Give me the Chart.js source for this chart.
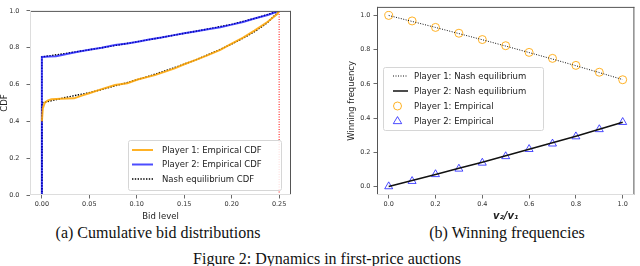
<!DOCTYPE html>
<html>
<head>
<meta charset="utf-8">
<script src="https://cdn.jsdelivr.net/npm/chart.js@4.4.1/dist/chart.umd.min.js"></script>
<style>
  body { margin: 0; width: 640px; height: 266px; background: #fff; overflow: hidden; position: relative; }
  .plot { position: absolute; top: 0; width: 320px; height: 222px; }
  .cap { position: absolute; font-family: 'Liberation Serif', serif; font-size: 16px; line-height: 16px;
         text-align: center; white-space: nowrap; color: #111; width: 400px; }
</style>
</head>
<body>
<div class="plot" style="left:0"><canvas id="cdfChart" width="320" height="222"></canvas></div>
<div class="plot" style="left:320px"><canvas id="winChart" width="320" height="222"></canvas></div>
<div class="cap" style="left:-42px; top:225px">(a) Cumulative bid distributions</div>
<div class="cap" style="left:307px; top:225px">(b) Winning frequencies</div>
<div class="cap" style="left:127px; top:251px">Figure 2: Dynamics in first-price auctions</div>
<script>
// (a) cumulative bid distributions
const p1EmpBids = [0, 0.001, 0.003, 0.006, 0.01, 0.02, 0.027, 0.034, 0.042, 0.05, 0.063, 0.077, 0.09, 0.101,
  0.119, 0.13, 0.14, 0.15, 0.163, 0.175, 0.188, 0.199, 0.212, 0.224, 0.238, 0.248, 0.25];
const p1EmpCdf = [0.40, 0.47, 0.50, 0.513, 0.52, 0.523, 0.524, 0.525, 0.54, 0.553, 0.575, 0.597, 0.607, 0.627,
  0.651, 0.67, 0.688, 0.71, 0.735, 0.76, 0.788, 0.82, 0.855, 0.893, 0.941, 0.983, 1.0];
const p2EmpBids = [0, 0, 0.008, 0.015, 0.025, 0.038, 0.05, 0.063, 0.077, 0.09, 0.101, 0.113, 0.126, 0.138,
  0.15, 0.163, 0.175, 0.188, 0.199, 0.212, 0.224, 0.238, 0.248, 0.25];
const p2EmpCdf = [0, 0.75, 0.752, 0.754, 0.765, 0.778, 0.789, 0.80, 0.815, 0.823, 0.833, 0.845, 0.855, 0.867,
  0.879, 0.889, 0.90, 0.911, 0.924, 0.94, 0.959, 0.978, 0.996, 1.0];
const p1NashBids = [0, 0, 0.0125, 0.025, 0.0375, 0.05, 0.0625, 0.075, 0.0875, 0.1, 0.1125, 0.125, 0.1375,
  0.15, 0.1625, 0.175, 0.1875, 0.2, 0.2125, 0.225, 0.2375, 0.25];
const p1NashCdf = [0, 0.5, 0.515, 0.53, 0.543, 0.556, 0.572, 0.59, 0.607, 0.626, 0.645, 0.666, 0.688,
  0.711, 0.735, 0.762, 0.79, 0.82, 0.853, 0.89, 0.935, 1.0];
const p2NashBids = [0, 0, 0.025, 0.05, 0.075, 0.1, 0.125, 0.15, 0.175, 0.2, 0.225, 0.25];
const p2NashCdf = [0, 0.75, 0.769, 0.789, 0.81, 0.832, 0.855, 0.878, 0.902, 0.927, 0.96, 1.0];
const capBids = [0.25, 0.25];
const capCdf = [0, 1];
const cdfXTicks = [0, 0.05, 0.1, 0.15, 0.2, 0.25];
const cdfYTicks = [0, 0.2, 0.4, 0.6, 0.8, 1.0];

// (b) winning frequencies
const valueRatios = [0, 0.1, 0.2, 0.3, 0.4, 0.5, 0.6, 0.7, 0.8, 0.9, 1.0];
const p1NashWin = [1.0, 0.965, 0.93, 0.894, 0.858, 0.821, 0.783, 0.745, 0.706, 0.666, 0.625];
const p2NashWin = [0, 0.035, 0.07, 0.106, 0.142, 0.179, 0.217, 0.255, 0.294, 0.334, 0.375];
const p1EmpWin = [1.0, 0.968, 0.93, 0.896, 0.859, 0.823, 0.784, 0.749, 0.708, 0.668, 0.624];
const p2EmpWin = [0, 0.031, 0.071, 0.103, 0.138, 0.176, 0.218, 0.25, 0.292, 0.334, 0.376];
const winXTicks = [0, 0.2, 0.4, 0.6, 0.8, 1.0];
const winYTicks = [0, 0.2, 0.4, 0.6, 0.8, 1.0];

const ORANGE = 'rgba(255,165,0,0.85)';
const BLUE = 'rgba(0,0,255,0.7)';
const TICK_FONT = {family: 'DejaVu Sans', size: 6.5};
const LABEL_FONT = {family: 'DejaVu Sans', size: 8.5};

const pts = (xs, ys) => xs.map((x, i) => ({x: x, y: ys[i]}));

// matplotlib-like frame around the plot area
const spines = {
  id: 'spines',
  afterDraw(chart, args, opts) {
    const {ctx, chartArea: a} = chart;
    const side = (x1, y1, x2, y2, c) => {
      ctx.beginPath();
      ctx.strokeStyle = c;
      ctx.lineWidth = 1;
      ctx.moveTo(x1, y1);
      ctx.lineTo(x2, y2);
      ctx.stroke();
    };
    ctx.save();
    side(a.left, a.top + 0.5, a.right, a.top + 0.5, opts.top);
    side(a.right - 0.5, a.top, a.right - 0.5, a.bottom, opts.right);
    side(a.left + 0.5, a.top, a.left + 0.5, a.bottom, opts.left);
    side(a.left, a.bottom - 0.5, a.right, a.bottom - 0.5, opts.bottom);
    ctx.restore();
  }
};

// legend box drawn inside the axes
const boxLegend = {
  id: 'boxLegend',
  afterDatasetsDraw(chart, args, opts) {
    const ctx = chart.ctx;
    const b = opts.box;
    ctx.save();
    ctx.beginPath();
    ctx.roundRect(b.x + 0.5, b.y + 0.5, b.w, b.h, 2);
    ctx.fillStyle = 'rgba(255,255,255,0.85)';
    ctx.fill();
    ctx.strokeStyle = '#d6d6d6';
    ctx.lineWidth = 1;
    ctx.stroke();
    ctx.font = '8.5px "DejaVu Sans"';
    ctx.textBaseline = 'middle';
    opts.items.forEach((it, i) => {
      const y = b.y + opts.firstY + i * opts.step;
      const x1 = b.x + opts.handleX, x2 = x1 + opts.handleW;
      if (it.kind === 'line') {
        ctx.beginPath();
        ctx.setLineDash(it.dash || []);
        ctx.strokeStyle = it.color;
        ctx.lineWidth = it.width;
        ctx.moveTo(x1, y);
        ctx.lineTo(x2, y);
        ctx.stroke();
        ctx.setLineDash([]);
      } else {
        const cx = (x1 + x2) / 2 - 3;
        ctx.strokeStyle = it.color;
        ctx.lineWidth = 1;
        ctx.beginPath();
        if (it.kind === 'circle') {
          ctx.arc(cx, y, 4, 0, Math.PI * 2);
        } else {
          const r = 4.4;
          ctx.moveTo(cx, y - r);
          ctx.lineTo(cx + r * 0.95, y + r * 0.6);
          ctx.lineTo(cx - r * 0.95, y + r * 0.6);
          ctx.closePath();
        }
        ctx.stroke();
      }
      ctx.fillStyle = '#222';
      ctx.fillText(it.text, x2 + opts.gap, y + 0.5);
    });
    ctx.restore();
  }
};

const axis = (min, max, tickVals, digits, fitSize, horizontal, title, titleFont, pad) => ({
  type: 'linear',
  min: min,
  max: max,
  afterBuildTicks: (s) => { s.ticks = tickVals.map(v => ({value: v})); },
  afterFit: (s) => { if (horizontal) s.height = fitSize; else s.width = fitSize; },
  grid: {drawOnChartArea: false, drawTicks: true, tickLength: 3.5, color: '#444', lineWidth: 0.8},
  border: {display: false},
  ticks: {font: TICK_FONT, color: '#333', padding: pad, maxRotation: 0,
    callback: (v) => Number(v).toFixed(digits)},
  title: {display: true, text: title, font: titleFont || LABEL_FONT, color: '#222', padding: {top: 0, bottom: 0}}
});

new Chart(document.getElementById('cdfChart'), {
  type: 'scatter',
  data: {
    datasets: [
      {label: 'Player 1: Empirical CDF', data: pts(p1EmpBids, p1EmpCdf), showLine: true,
        borderColor: ORANGE, borderWidth: 2, pointRadius: 0},
      {label: 'Player 2: Empirical CDF', data: pts(p2EmpBids, p2EmpCdf), showLine: true,
        borderColor: BLUE, borderWidth: 2, pointRadius: 0},
      {label: 'Nash P1', data: pts(p1NashBids, p1NashCdf), showLine: true,
        borderColor: '#000', borderWidth: 1.4, borderDash: [1.4, 1.4], pointRadius: 0},
      {label: 'Nash P2', data: pts(p2NashBids, p2NashCdf), showLine: true,
        borderColor: '#000', borderWidth: 1.4, borderDash: [1.4, 1.4], pointRadius: 0},
      {label: 'max bid', data: pts(capBids, capCdf), showLine: true,
        borderColor: '#ff0000', borderWidth: 1, borderDash: [1, 1.5], pointRadius: 0}
    ]
  },
  options: {
    responsive: false,
    animation: false,
    layout: {padding: {left: 0, top: 2, right: 29, bottom: 0}},
    scales: {
      x: axis(-0.0125, 0.2625, cdfXTicks, 2, 27, true, 'Bid level', null, 2),
      y: axis(0, 1, cdfYTicks, 1, 30, false, 'CDF', null, 7)
    },
    plugins: {
      legend: {display: false},
      tooltip: {enabled: false},
      spines: {top: '#555', right: '#555', left: '#ddd', bottom: '#ddd'},
      boxLegend: {
        box: {x: 128, y: 140, w: 153, h: 50},
        firstY: 10, step: 14.5, handleX: 4, handleW: 21, gap: 9,
        items: [
          {kind: 'line', color: ORANGE, width: 2, text: 'Player 1: Empirical CDF'},
          {kind: 'line', color: BLUE, width: 2, text: 'Player 2: Empirical CDF'},
          {kind: 'line', color: '#000', width: 1.4, dash: [1.4, 1.4], text: 'Nash equilibrium CDF'}
        ]
      }
    }
  },
  plugins: [spines, boxLegend]
});

new Chart(document.getElementById('winChart'), {
  type: 'scatter',
  data: {
    datasets: [
      {label: 'Player 1: Nash equilibrium', data: pts(valueRatios, p1NashWin), showLine: true,
        borderColor: '#111', borderWidth: 1, borderDash: [1, 1.5], pointRadius: 0},
      {label: 'Player 2: Nash equilibrium', data: pts(valueRatios, p2NashWin), showLine: true,
        borderColor: '#111', borderWidth: 1.5, pointRadius: 0},
      {label: 'Player 1: Empirical', data: pts(valueRatios, p1EmpWin), pointStyle: 'circle',
        pointRadius: 4, borderColor: ORANGE, backgroundColor: 'rgba(255,255,255,0)', borderWidth: 1},
      {label: 'Player 2: Empirical', data: pts(valueRatios, p2EmpWin), pointStyle: 'triangle',
        pointRadius: 4.6, borderColor: BLUE, backgroundColor: 'rgba(255,255,255,0)', borderWidth: 1}
    ]
  },
  options: {
    responsive: false,
    animation: false,
    layout: {padding: {left: 27, top: 3, right: 1, bottom: 0}},
    scales: {
      x: axis(-0.05, 1.05, winXTicks, 1, 27, true, 'v\u2082/v\u2081',
        {family: 'DejaVu Sans', size: 10, weight: 'bold', style: 'italic'}, 2),
      y: axis(-0.05, 1.05, winYTicks, 1, 30, false, 'Winning frequency', null, 3)
    },
    plugins: {
      legend: {display: false},
      tooltip: {enabled: false},
      spines: {top: '#555', right: '#555', left: '#555', bottom: '#ddd'},
      boxLegend: {
        box: {x: 63, y: 67, w: 160, h: 63},
        firstY: 9, step: 15, handleX: 10, handleW: 15, gap: 6,
        items: [
          {kind: 'line', color: '#111', width: 1, dash: [1, 1.5], text: 'Player 1: Nash equilibrium'},
          {kind: 'line', color: '#111', width: 1.5, text: 'Player 2: Nash equilibrium'},
          {kind: 'circle', color: ORANGE, text: 'Player 1: Empirical'},
          {kind: 'triangle', color: BLUE, text: 'Player 2: Empirical'}
        ]
      }
    }
  },
  plugins: [spines, boxLegend]
});
</script>
</body>
</html>
